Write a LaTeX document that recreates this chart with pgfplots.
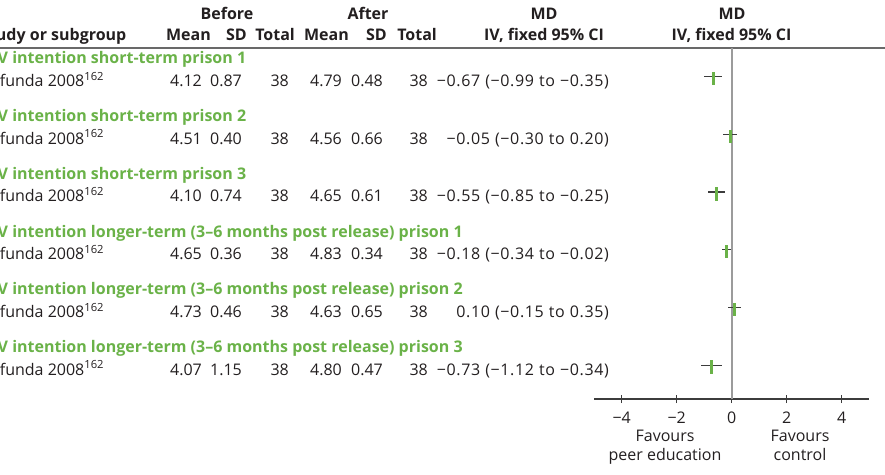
\documentclass[border=0pt]{standalone}
\usepackage{fontspec}
\setmainfont{Open Sans}
\usepackage{pgfplots}
\usepackage{pgfplotstable}
\pgfplotsset{compat=1.18}

\definecolor{grp}{RGB}{106,178,72}
\definecolor{ink}{RGB}{35,31,32}
\definecolor{rule}{RGB}{105,105,105}
\definecolor{zeroline}{RGB}{155,155,155}
\definecolor{ciline}{RGB}{60,60,60}

\newcommand\fs{\fontsize{16}{19}\selectfont}

% mean difference and 95% CI for each subgroup (row index on y)
\pgfplotstableread{
row   md     lo     hi
-1   -0.67  -0.99  -0.35
-2   -0.05  -0.30   0.20
-3   -0.55  -0.85  -0.25
-4   -0.18  -0.34  -0.02
-5    0.10  -0.15   0.35
-6   -0.73  -1.12  -0.34
}\mdtable

% one subgroup: heading baseline, heading, before mean/SD, after mean/SD, MD text
\newcommand\studyrow[7]{%
  \node[anchor=base west, text=grp, font=\fs\bfseries] at (-20,#1) {#2};
  \node[anchor=base west] at (-20,#1-22.5) {Kufunda 2008\textsuperscript{162}};
  \node[anchor=base east] at (202,#1-22.5) {#3};
  \node[anchor=base east] at (242,#1-22.5) {#4};
  \node[anchor=base east] at (289,#1-22.5) {38};
  \node[anchor=base east] at (342,#1-22.5) {#5};
  \node[anchor=base east] at (383,#1-22.5) {#6};
  \node[anchor=base east] at (428,#1-22.5) {38};
  \node[anchor=base east] at (609,#1-22.5) {\addfontfeature{LetterSpace=4}\spaceskip=5pt #7};
}

\begin{document}
\begin{tikzpicture}[x=1pt, y=1pt, font=\fs, text=ink, every node/.style={inner sep=0pt}]
\useasboundingbox (0,0) rectangle (885,474);

% column headings
\begin{scope}[font=\fs\bfseries]
  \node[anchor=base] at (227,454.5) {Before};
  \node[anchor=base] at (368,454.5) {After};
  \node[anchor=base] at (544,454.5) {MD};
  \node[anchor=base] at (732,454.5) {MD};
  \node[anchor=base west] at (-20,433.5) {Study or subgroup};
  \node[anchor=base east] at (211,433.5) {Mean};
  \node[anchor=base east] at (247,433.5) {SD};
  \node[anchor=base east] at (295,433.5) {Total};
  \node[anchor=base east] at (349,433.5) {Mean};
  \node[anchor=base east] at (387,433.5) {SD};
  \node[anchor=base east] at (437,433.5) {Total};
  \node[anchor=base] at (544,433.5) {IV, fixed 95\% CI};
  \node[anchor=base] at (731.5,433.5) {IV, fixed 95\% CI};
\end{scope}
\draw[line width=1.5pt, color=rule] (0,426) -- (885,426);

\studyrow{410}{HIV intention short-term prison 1}{4.12}{0.87}{4.79}{0.48}{−0.67 (−0.99 to −0.35)}
\studyrow{352.3}{HIV intention short-term prison 2}{4.51}{0.40}{4.56}{0.66}{−0.05 (−0.30 to 0.20)}
\studyrow{294.6}{HIV intention short-term prison 3}{4.10}{0.74}{4.65}{0.61}{−0.55 (−0.85 to −0.25)}
\studyrow{236.9}{HIV intention longer-term (3–6 months post release) prison 1}{4.65}{0.36}{4.83}{0.34}{−0.18 (−0.34 to −0.02)}
\studyrow{179.2}{HIV intention longer-term (3–6 months post release) prison 2}{4.73}{0.46}{4.63}{0.65}{0.10 (−0.15 to 0.35)}
\studyrow{121.5}{HIV intention longer-term (3–6 months post release) prison 3}{4.07}{1.15}{4.80}{0.47}{−0.73 (−1.12 to −0.34)}

\begin{axis}[
  at={(594.2pt,75pt)}, anchor=south west,
  scale only axis, width=275pt, height=351pt,
  xmin=-5, xmax=5, ymin=-6.586, ymax=-0.503,
  axis x line*=bottom, axis y line=none,
  x axis line style={-, line width=1.2pt, color=ciline},
  xtick={-4,-2,0,2,4}, xticklabels={−4,−2,0,2,4},
  tick align=center, major tick length=8pt,
  every tick/.style={line width=1.2pt, color=ciline},
  xticklabel style={font=\fs, text=ink, anchor=base, yshift=-20pt},
  clip=false,
]
  % line of no effect
  \addplot[color=zeroline, line width=2pt] coordinates {(0,-0.503) (0,-6.586)};
  % point estimates with confidence intervals
  \addplot[only marks, mark=|, mark size=6.7pt,
           mark options={line width=2.6pt, color=grp, yshift=-2pt},
           error bars/.cd, x dir=both, x explicit, error mark=none,
           error bar style={line width=1.3pt, color=ciline}]
    table[x=md, y=row,
          x error plus expr=\thisrow{hi}-\thisrow{md},
          x error minus expr=\thisrow{md}-\thisrow{lo}] {\mdtable};
\end{axis}

% direction labels under the scale
\node[anchor=base] at (665,32.3) {Favours};
\node[anchor=base] at (665,14) {peer education};
\node[anchor=base] at (800,32.3) {Favours};
\node[anchor=base] at (800,14) {control};
\end{tikzpicture}
\end{document}
